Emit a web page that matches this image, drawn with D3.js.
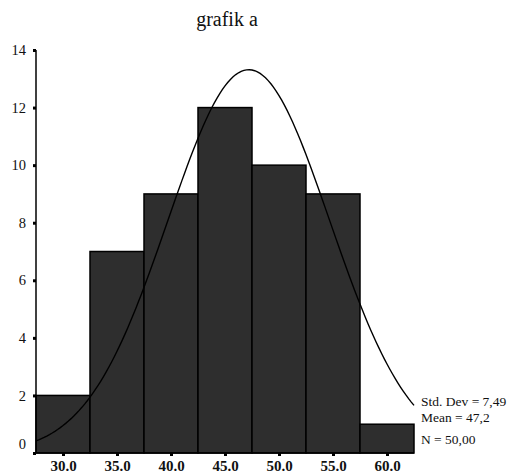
<!DOCTYPE html>
<html>
<head>
<meta charset="utf-8">
<script src="https://cdn.jsdelivr.net/npm/d3@7"></script>
<style>
  body { margin: 0; background: #fff; }
</style>
</head>
<body>
<svg id="chart" width="510" height="475"></svg>
<script>
// dati istogramma
const binCenters  = [30, 35, 40, 45, 50, 55, 60];
const counts      = [2, 7, 9, 12, 10, 9, 1];
const binWidth    = 5;
const yTicks      = [0, 2, 4, 6, 8, 10, 12, 14];
const xTickLabels = ["30.0", "35.0", "40.0", "45.0", "50.0", "55.0", "60.0"];
const stats       = ["Std. Dev = 7,49", "Mean = 47,2", "N = 50,00"];
const meanVal = 47.2, sdVal = 7.49, nVal = 50;

const FONT = "Liberation Serif";
const svg = d3.select("#chart");
const x = d3.scaleLinear().domain([27.5, 62.5]).range([36, 414]);
const y = d3.scaleLinear().domain([0, 14]).range([453, 50]);

/* ── BARRE ── */
svg.append("g").selectAll("rect")
  .data(binCenters)
  .join("rect")
  .attr("x", d => x(d - binWidth / 2))
  .attr("width", d => x(d + binWidth / 2) - x(d - binWidth / 2))
  .attr("y", (d, i) => y(counts[i]))
  .attr("height", (d, i) => y(0) - y(counts[i]))
  .attr("fill", "#2e2e2e")
  .attr("stroke", "#000")
  .attr("stroke-width", 1.5);

/* ── CURVA NORMALE (dalla media e dev. std. indicate) ── */
const curvePts = d3.range(27.5, 62.51, 0.25).map(v => {
  const z = (v - meanVal) / sdVal;
  return [v, nVal * binWidth * Math.exp(-0.5 * z * z) / (sdVal * Math.sqrt(2 * Math.PI))];
});
svg.append("path")
  .datum(curvePts)
  .attr("fill", "none")
  .attr("stroke", "#000")
  .attr("stroke-width", 1.4)
  .attr("d", d3.line().x(d => x(d[0])).y(d => y(d[1])));

/* ── ASSI ── */
svg.append("line")
  .attr("x1", 36).attr("x2", 36).attr("y1", y(14)).attr("y2", y(0))
  .attr("stroke", "#000").attr("stroke-width", 1.5);
svg.append("line")
  .attr("x1", 36).attr("x2", 414).attr("y1", y(0)).attr("y2", y(0))
  .attr("stroke", "#000").attr("stroke-width", 1.5);

const yAxis = svg.append("g")
  .attr("transform", "translate(36,0)")
  .call(d3.axisLeft(y).tickValues(yTicks).tickSize(3).tickPadding(7).tickFormat(d3.format("d")));
yAxis.attr("font-family", FONT);
yAxis.select(".domain").remove();
yAxis.selectAll(".tick line").attr("stroke-width", 3);
yAxis.selectAll("text")
  .style("font-family", FONT)
  .style("font-size", "14.5px")
  .attr("fill", "#111")
  .attr("dy", d => d === 0 ? "-0.3em" : "0.32em");

const xAxis = svg.append("g")
  .attr("transform", `translate(0,${y(0)})`)
  .call(d3.axisBottom(x).tickValues(binCenters).tickSize(3).tickPadding(4)
    .tickFormat((d, i) => xTickLabels[i]));
xAxis.attr("font-family", FONT);
xAxis.select(".domain").remove();
xAxis.selectAll(".tick line").attr("stroke-width", 3);
xAxis.selectAll("text")
  .style("font-family", FONT)
  .style("font-size", "15px")
  .attr("fill", "#111")
  .attr("font-weight", "bold");

/* ── TITOLO E STATISTICHE ── */
svg.append("text")
  .attr("x", 227).attr("y", 26)
  .attr("text-anchor", "middle")
  .style("font-family", FONT)
  .style("font-size", "20px")
  .attr("fill", "#111")
  .text("grafik a");

svg.selectAll(".stat")
  .data(stats)
  .join("text")
  .attr("class", "stat")
  .attr("x", 421)
  .attr("y", (d, i) => [406, 422, 444][i])
  .style("font-family", FONT)
  .style("font-size", "13.5px")
  .attr("fill", "#111")
  .text(d => d);
</script>
</body>
</html>
